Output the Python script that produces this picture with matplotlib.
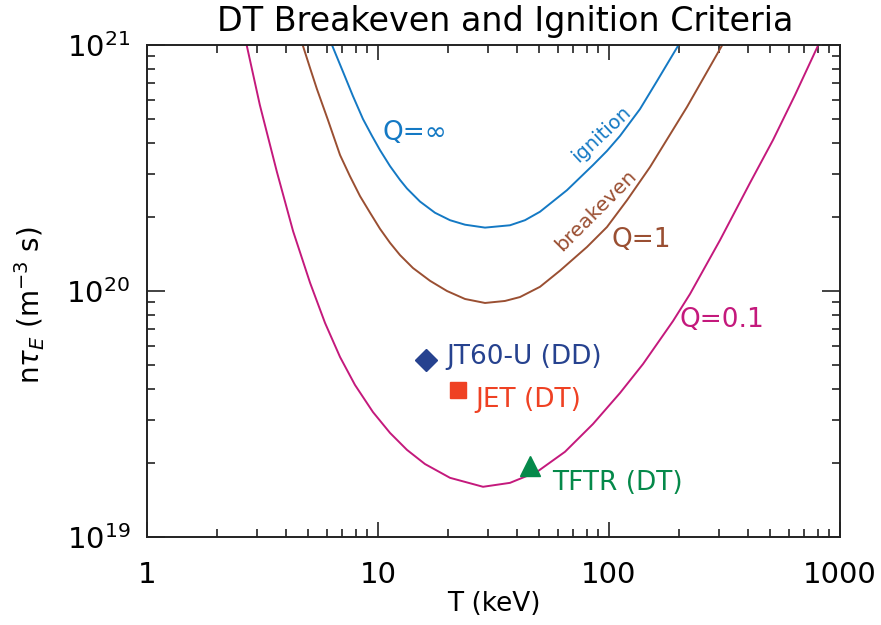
import matplotlib.pyplot as plt
import numpy as np
from matplotlib.ticker import FixedLocator, NullFormatter, LogLocator

# Lawson-type criteria curves: temperature (keV) vs n*tau_E (m^-3 s)
ign_T = [6.32, 7.06, 7.79, 8.61, 9.42, 10.2, 11.27, 12.45, 13.35, 15.2, 17.65,
         20.5, 23.81, 29.06, 37.27, 43.28, 50.27, 65.79, 85.25, 98.0, 111.6,
         136.2, 161.4, 200]
ign_nt = [1.0e21, 7.77e20, 6.20e20, 5.00e20, 4.27e20, 3.74e20, 3.22e20, 2.83e20,
          2.61e20, 2.31e20, 2.08e20, 1.94e20, 1.86e20, 1.81e20, 1.85e20, 1.94e20,
          2.10e20, 2.57e20, 3.25e20, 3.71e20, 4.27e20, 5.49e20, 7.14e20, 1.0e21]

brk_T = [4.72, 5.08, 5.44, 6.07, 6.85, 7.56, 8.36, 9.24, 10.2, 11.27, 12.45, 14.17,
         16.8, 19.89, 23.81, 29.06, 35.46, 41.18, 50.27, 61.37, 80.3, 98.0, 119.7,
         150.5, 217.6, 309.4]
brk_nt = [1.0e21, 8.06e20, 6.62e20, 4.96e20, 3.57e20, 2.93e20, 2.43e20, 2.08e20,
          1.79e20, 1.57e20, 1.40e20, 1.24e20, 1.10e20, 1.00e20, 9.28e19, 8.94e19,
          9.11e19, 9.45e19, 1.04e20, 1.21e20, 1.51e20, 1.82e20, 2.34e20, 3.19e20,
          5.60e20, 1.0e21]

q01_T = [2.70, 3.08, 3.65, 4.29, 5.08, 5.90, 6.85, 7.95, 9.51, 11.27, 13.35, 15.97,
         20.5, 28.49, 37.27, 48.78, 64.49, 85.25, 111.6, 140.4, 189.3, 224.2, 302.4,
         407.7, 512.9, 638.6, 805.5]
q01_nt = [1.0e21, 5.70e20, 3.05e20, 1.75e20, 1.08e20, 7.41e19, 5.39e19, 4.15e19,
          3.22e19, 2.65e19, 2.26e19, 1.98e19, 1.74e19, 1.60e19, 1.66e19, 1.84e19,
          2.22e19, 2.88e19, 3.85e19, 5.05e19, 7.55e19, 9.72e19, 1.61e20, 2.75e20,
          4.11e20, 6.26e20, 1.0e21]

# experimental results
exp_names = ["JT60-U (DD)", "JET (DT)", "TFTR (DT)"]
exp_T = [16.1, 22.1, 45.5]
exp_nt = [5.25e19, 3.96e19, 1.94e19]

c_ign = "#1479c4"
c_brk = "#9a4f32"
c_q01 = "#c4197c"
exp_colors = ["#26428f", "#ef4123", "#05894a"]
exp_markers = ["D", "s", "^"]
exp_sizes = [11.5, 11.5, 14]
exp_offsets = [(15, 2), (13, -7), (16, -12)]

fig = plt.figure(figsize=(8.81, 6.25), dpi=100)
ax = fig.add_axes([147 / 881, 88 / 625, 693 / 881, 492 / 625])

ax.plot(ign_T, ign_nt, color=c_ign, lw=1.4)
ax.plot(brk_T, brk_nt, color=c_brk, lw=1.4)
ax.plot(q01_T, q01_nt, color=c_q01, lw=1.4)

for name, t, nt, col, m, s, off in zip(exp_names, exp_T, exp_nt, exp_colors,
                                       exp_markers, exp_sizes, exp_offsets):
    ax.plot(t, nt, marker=m, ms=s, color=col, ls="none")
    ax.annotate(name, (t, nt), xytext=off, textcoords="offset points",
                color=col, fontsize=19, ha="left", va="center")

ax.text(14.5, 4.39e20, "Q=\u221e", color=c_ign, fontsize=19, ha="center", va="center")
ax.text(92.3, 4.35e20, "ignition", color=c_ign, fontsize=14, rotation=43,
        ha="center", va="center")
ax.text(87.8, 2.12e20, "breakeven", color=c_brk, fontsize=14.5, rotation=45,
        ha="center", va="center")
ax.text(138, 1.61e20, "Q=1", color=c_brk, fontsize=19, ha="center", va="center")
ax.text(308, 7.62e19, "Q=0.1", color=c_q01, fontsize=19, ha="center", va="center")

ax.set_xscale("log")
ax.set_yscale("log")
ax.set_xlim(1, 1000)
ax.set_ylim(1e19, 1e21)

ax.xaxis.set_major_locator(FixedLocator([1, 10, 100, 1000]))
ax.set_xticklabels(["1", "10", "100", "1000"])
ax.xaxis.set_minor_locator(LogLocator(base=10, subs=np.arange(2, 10)))
ax.xaxis.set_minor_formatter(NullFormatter())
ax.yaxis.set_major_locator(FixedLocator([1e19, 1e20, 1e21]))
ax.set_yticklabels([r"10$^{19}$", r"10$^{20}$", r"10$^{21}$"])
ax.yaxis.set_minor_locator(LogLocator(base=10, subs=np.arange(2, 10)))
ax.yaxis.set_minor_formatter(NullFormatter())

ax.tick_params(which="both", direction="in", top=True, right=True,
               labelsize=21, width=1.2, color="#222222")
ax.tick_params(axis="x", which="major", length=11, pad=17)
ax.tick_params(axis="y", which="major", length=13, pad=12)
ax.tick_params(which="minor", length=6)
for sp in ax.spines.values():
    sp.set_linewidth(1.4)
    sp.set_color("#222222")

ax.set_xlabel("T (keV)", fontsize=19, labelpad=2)
ax.set_ylabel(r"n$\tau_E$ (m$^{-3}$ s)", fontsize=20)
ax.yaxis.set_label_coords(-0.145, 0.47)
ax.set_title("DT Breakeven and Ignition Criteria", fontsize=24, pad=10, x=0.517)

fig.savefig("out.png", dpi=100)
